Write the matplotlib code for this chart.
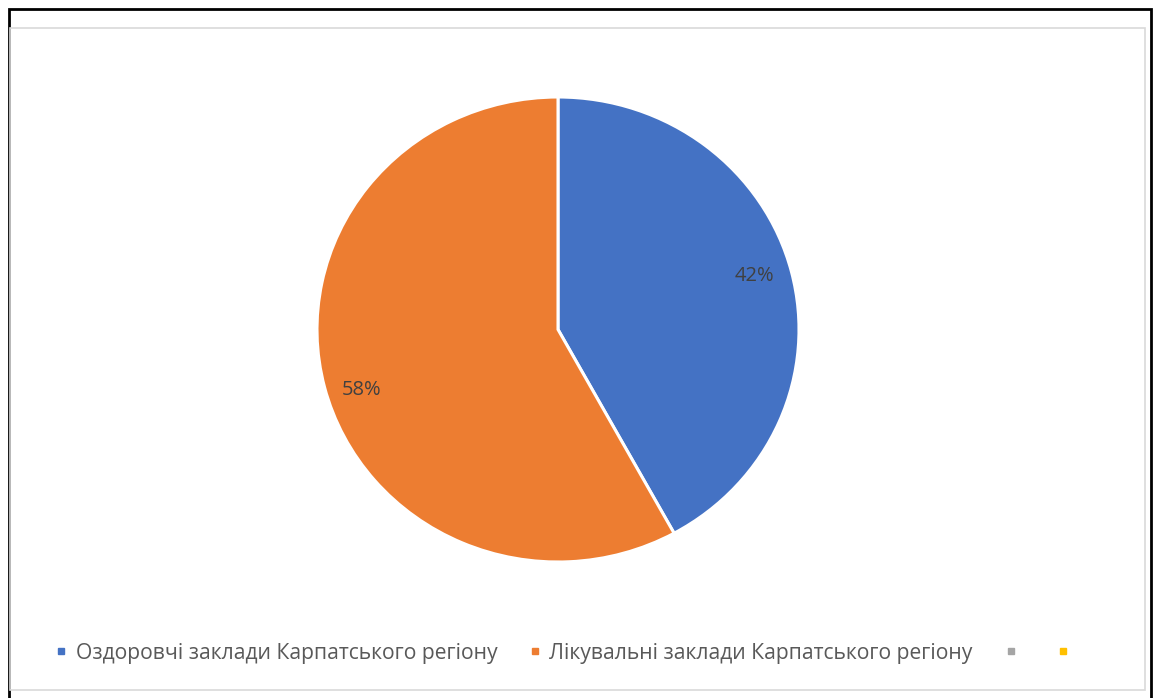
import matplotlib
matplotlib.use("Agg")
import matplotlib.pyplot as plt
from matplotlib.lines import Line2D
from matplotlib.patches import Rectangle

categories = ["Оздоровчі заклади Карпатського регіону",
              "Лікувальні заклади Карпатського регіону", "", ""]
values = [42, 58, 0, 0]
colors = ["#4472C4", "#ED7D31", "#A5A5A5", "#FFC000"]

W, H = 1154, 698
fig = plt.figure(figsize=(W / 100, H / 100), dpi=100)
fig.patch.set_facecolor("white")

# outer black frame and inner grey chart border
fig.add_artist(Rectangle((9 / W, -0.01), (1151 - 9) / W, (698 - 9) / H + 0.01,
                         transform=fig.transFigure, fill=False,
                         edgecolor="black", linewidth=2))
fig.add_artist(Rectangle((10 / W, (698 - 690) / H), (1145 - 10) / W, (690 - 28) / H,
                         transform=fig.transFigure, fill=False,
                         edgecolor="#D9D9D9", linewidth=1.2))

cx, cy = 558, 698 - 329.5
rx, ry = 241, 232.5
aw, ah = 2.5 * rx, 2.5 * ry
ax = fig.add_axes([(cx - aw / 2) / W, (cy - ah / 2) / H, aw / W, ah / H])

pv = [v for v in values if v > 0]
pc = [c for v, c in zip(values, colors) if v > 0]
wedges, texts, autotexts = ax.pie(
    pv, colors=pc, startangle=90, counterclock=False,
    autopct=lambda p: f"{p:.0f}%", pctdistance=0.84,
    wedgeprops=dict(edgecolor="white", linewidth=2.2),
    textprops=dict(color="#404040", fontsize=14.5, family="Open Sans"))
ax.set_aspect("auto")
ax.set_xlim(-1.25, 1.25)
ax.set_ylim(-1.25, 1.25)

# small nudges of the percentage labels to match the original placement
label_dy = [0.02, -0.05]
for t, d in zip(autotexts, label_dy):
    x, y = t.get_position()
    t.set_position((x, y + d))

handles = [Line2D([], [], linestyle="none", marker="s", markersize=5,
                  markerfacecolor=c, markeredgecolor=c) for c in colors]
leg = fig.legend(handles, categories, loc="center", ncol=4,
                 bbox_to_anchor=(566 / W, (698 - 653) / H),
                 frameon=False, handlelength=0.6, handletextpad=0.37,
                 columnspacing=1.5,
                 prop=dict(family="Open Sans", size=15.2))
for t in leg.get_texts():
    t.set_color("#595959")

fig.savefig("out.png", dpi=100, facecolor="white")
